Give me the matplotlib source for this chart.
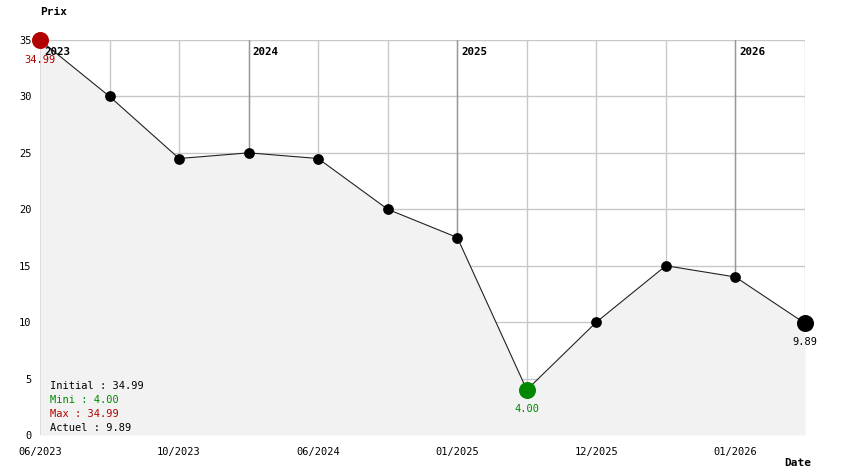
import matplotlib
matplotlib.use("Agg")
import matplotlib.pyplot as plt

prices = [34.99, 30.0, 24.5, 25.0, 24.5, 20.0, 17.5, 4.0, 10.0, 15.0, 14.0, 9.89]
tick_idx = [0, 2, 4, 6, 8, 10]
tick_labels = ["06/2023", "10/2023", "06/2024", "01/2025", "12/2025", "01/2026"]
year_idx = [0, 3, 6, 10]
year_labels = ["2023", "2024", "2025", "2026"]
y_ticks = [0, 5, 10, 15, 20, 25, 30, 35]

W, H = 844, 474
fig = plt.figure(figsize=(W / 100, H / 100), dpi=100)
ax = fig.add_axes([40 / W, 39 / H, 765 / W, 395 / H])
mono = "DejaVu Sans Mono"
fs = 7.5

x = list(range(len(prices)))
ax.set_xlim(0, len(prices) - 1)
ax.set_ylim(0, 35)

for s in ax.spines.values():
    s.set_visible(False)

# grid
for yv in y_ticks[1:]:
    ax.axhline(yv, color="#c8c8c8", lw=1, zorder=1)
for xi in x:
    ax.axvline(xi, color="#c8c8c8", lw=1, zorder=1)

# fill
ax.fill_between(x, prices, 0, color="#f2f2f2", zorder=2, lw=0)

# year lines
for xi, lab in zip(year_idx, year_labels):
    ax.plot([xi, xi], [prices[xi], 35], color="#999999", lw=1, zorder=3)
    ax.annotate(lab, xy=(xi, 35), xytext=(3, -5), textcoords="offset points",
                ha="left", va="top", fontsize=fs + 0.3, fontweight="bold",
                family=mono, zorder=6)

ax.plot(x, prices, color="#222222", lw=0.8, zorder=4)

imax = prices.index(max(prices))
imin = prices.index(min(prices))
ilast = len(prices) - 1
small = [i for i in x if i not in (imax, imin, ilast)]
ax.scatter([x[i] for i in small], [prices[i] for i in small], s=60, color="black", zorder=5, lw=0)
ax.scatter([x[imax]], [prices[imax]], s=150, color="#b30000", zorder=7, lw=0, clip_on=False)
ax.scatter([x[imin]], [prices[imin]], s=150, color="#008800", zorder=7, lw=0, clip_on=False)
ax.scatter([x[ilast]], [prices[ilast]], s=150, color="black", zorder=7, lw=0, clip_on=False)

ax.annotate(f"{prices[imax]:.2f}", xy=(x[imax], prices[imax]), xytext=(0, -11),
            textcoords="offset points", ha="center", va="top", fontsize=fs,
            family=mono, color="#b30000")
ax.annotate(f"{prices[imin]:.2f}", xy=(x[imin], prices[imin]), xytext=(0, -10),
            textcoords="offset points", ha="center", va="top", fontsize=fs,
            family=mono, color="#008800")
ax.annotate(f"{prices[ilast]:.2f}", xy=(x[ilast], prices[ilast]), xytext=(0, -10),
            textcoords="offset points", ha="center", va="top", fontsize=fs,
            family=mono, color="black")

ax.set_yticks(y_ticks)
ax.set_yticklabels([str(v) for v in y_ticks], family=mono, fontsize=fs)
ax.set_xticks(tick_idx)
ax.set_xticklabels(tick_labels, family=mono, fontsize=fs)
ax.tick_params(length=0)
ax.tick_params(axis="y", pad=6)
ax.tick_params(axis="x", pad=9)

fig.text(40 / W, 1 - 12 / H, "Prix", fontsize=fs + 0.5, fontweight="bold", family=mono, va="center")
fig.text(784 / W, 1 - 463 / H, "Date", fontsize=fs + 0.5, fontweight="bold", family=mono, va="center")

legend = [("Initial : %.2f" % prices[0], "black"),
          ("Mini : %.2f" % prices[imin], "#008800"),
          ("Max : %.2f" % prices[imax], "#b30000"),
          ("Actuel : %.2f" % prices[ilast], "black")]
for k, (t, c) in enumerate(legend):
    fig.text(50 / W, 1 - (386 + 14 * k) / H, t, fontsize=fs, family=mono, color=c, va="center", zorder=10)

fig.savefig("out.png", dpi=100)
